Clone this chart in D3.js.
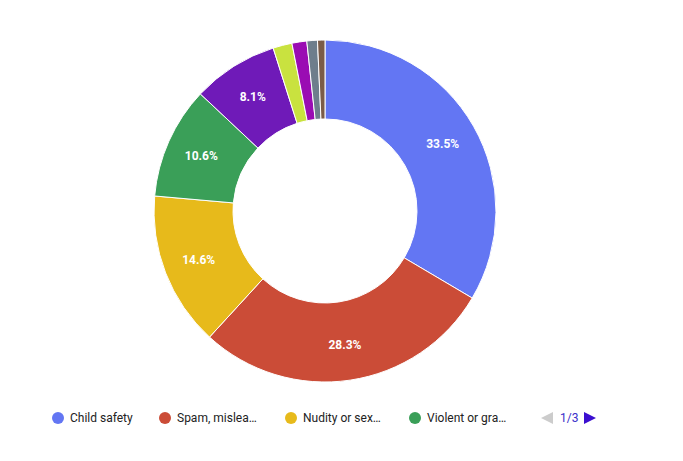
<!DOCTYPE html>
<html>
<head>
<meta charset="utf-8">
<script src="https://cdn.jsdelivr.net/npm/d3@7"></script>
<style>
  body { margin: 0; background: #fff; font-family: Roboto, Arial, sans-serif; }
</style>
</head>
<body>
<div id="chart"></div>
<script>
// --- Données ---
const categories = ["Child safety", "Spam, misleading and scams", "Nudity or sexual content",
  "Violent or graphic content", "Harmful or dangerous content", "Harassment and cyberbullying",
  "Promotion of violence", "Hateful or abusive content", "Other"];
const values = [33.5, 28.3, 14.6, 10.6, 8.1, 1.8, 1.4, 1.0, 0.7];
const colors = ["#6376f3", "#cb4c37", "#e7ba1b", "#3a9f58", "#6f1ab8", "#c9e23f", "#9a0cb3", "#6e7e8c", "#7a5c48"];
const legendLabels = ["Child safety", "Spam, mislea…", "Nudity or sex…", "Violent or gra…"];

const width = 683, height = 461;
const cx = 325, cy = 211, outerR = 171, innerR = 92;

const svg = d3.select("#chart").append("svg")
  .attr("width", width).attr("height", height);

const pie = d3.pie().sort(null).value(d => d);
const arc = d3.arc().innerRadius(innerR).outerRadius(outerR);
const labelArc = d3.arc().innerRadius((innerR + outerR) / 2 + 4).outerRadius((innerR + outerR) / 2 + 4);

const g = svg.append("g").attr("transform", `translate(${cx},${cy})`);
const arcs = pie(values);

g.selectAll("path").data(arcs).join("path")
  .attr("d", arc)
  .attr("fill", (d, i) => colors[i])
  .attr("stroke", "#fff")
  .attr("stroke-width", 1);

g.selectAll("text").data(arcs.filter(d => d.data >= 5)).join("text")
  .attr("transform", d => `translate(${labelArc.centroid(d)})`)
  .attr("text-anchor", "middle")
  .attr("dy", "0.35em")
  .style("font-size", "12px")
  .style("font-weight", "bold")
  .style("fill", "#fff")
  .text(d => d.data.toFixed(1) + "%");

// --- Légende ---
const legendX = [58, 165, 291, 415];
const legend = svg.append("g").attr("transform", "translate(0,418)");
legendLabels.forEach((t, i) => {
  legend.append("circle").attr("cx", legendX[i]).attr("cy", 0).attr("r", 6).attr("fill", colors[i]);
  legend.append("text").attr("x", legendX[i] + 12).attr("y", 0).attr("dy", "0.35em")
    .style("font-size", "12px").style("fill", "#222").text(t);
});
legend.append("path").attr("d", "M541,0 L553,-6 L553,6 Z").attr("fill", "#ccc");
legend.append("text").attr("x", 560).attr("y", 0).attr("dy", "0.35em")
  .style("font-size", "12px").style("fill", "#3b2fc9").text("1/3");
legend.append("path").attr("d", "M584,-6 L596,0 L584,6 Z").attr("fill", "#3b0fd0");
</script>
</body>
</html>
